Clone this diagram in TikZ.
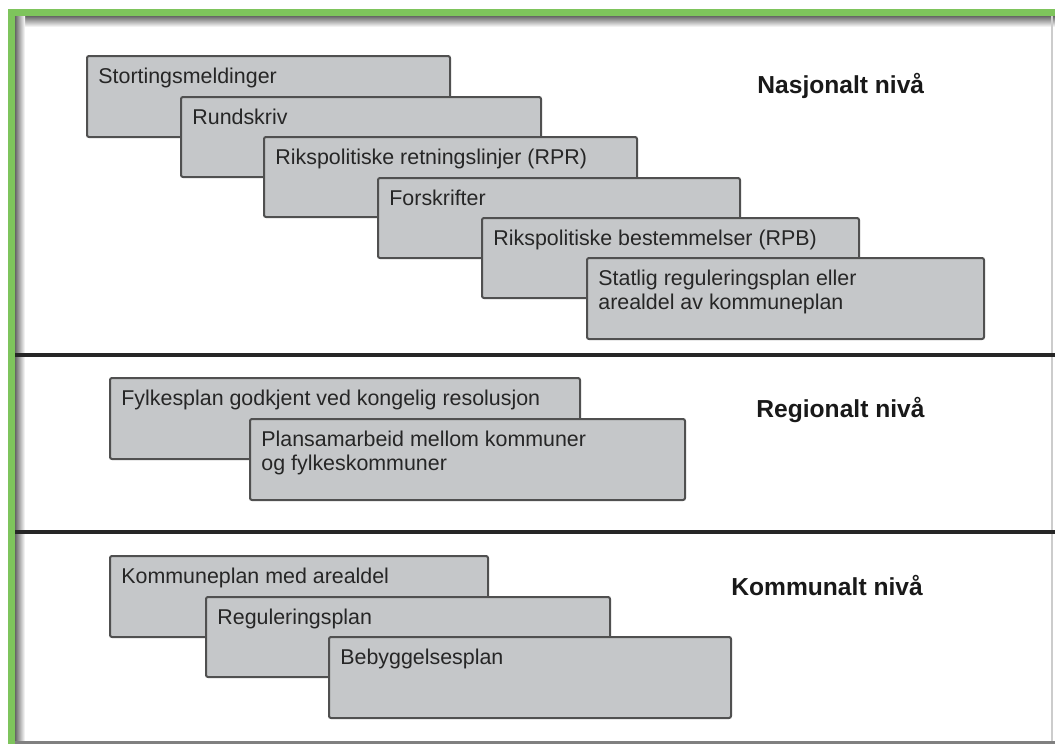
\documentclass[tikz,border=0pt]{standalone}
\usepackage{fontspec}
\setmainfont{Liberation Sans}
\usetikzlibrary{fit}
\definecolor{framegreen}{RGB}{126,196,92}
\definecolor{boxgray}{RGB}{197,199,201}
\definecolor{boxline}{RGB}{80,80,80}
\definecolor{textgray}{RGB}{38,38,38}
\begin{document}
\begin{tikzpicture}[x=0.5pt,y=-0.5pt,
    planbox/.style={draw=boxline, fill=boxgray, line width=1pt, rounded corners=1pt, inner sep=0pt},
    plantext/.style={anchor=north west, inner sep=0pt, align=left, text=textgray,
      font=\fontsize{10.7}{11.6}\selectfont, xshift=6pt, yshift=-6.5pt},
    levellabel/.style={anchor=base west, inner sep=0pt, text=black!90,
      font=\fontsize{12.3}{14}\selectfont\bfseries},
    levelline/.style={line width=1.6pt, black!85}]
  \useasboundingbox[fill=white] (0,0) rectangle (1055,744);
  \shade[top color=black!60, bottom color=white] (15,16) rectangle (1055,27);
  \shade[left color=black!60, right color=white] (15,16) rectangle (25,744);
  \fill[framegreen] (8,9) rectangle (1055,16);
  \fill[framegreen] (8,9) rectangle (15,744);
  \draw[gray!40, line width=0.6pt] (1052,16) -- (1052,744);

  \node[planbox, fit={(87,56) (450,137)}] (stort) {};
  \node[plantext] (stort-t) at (stort.north west) {Stortingsmeldinger};
  \node[planbox, fit={(181,97) (541,177)}] (rund) {};
  \node[plantext] (rund-t) at (rund.north west) {Rundskriv};
  \node[planbox, fit={(264,137) (637,217)}] (rpr) {};
  \node[plantext] (rpr-t) at (rpr.north west) {Rikspolitiske retningslinjer (RPR)};
  \node[planbox, fit={(378,178) (740,258)}] (forsk) {};
  \node[plantext] (forsk-t) at (forsk.north west) {Forskrifter};
  \node[planbox, fit={(482,218) (859,298)}] (rpb) {};
  \node[plantext] (rpb-t) at (rpb.north west) {Rikspolitiske bestemmelser (RPB)};
  \node[planbox, fit={(587,258) (984,339)}] (statlig) {};
  \node[plantext] (statlig-t) at (statlig.north west) {Statlig reguleringsplan eller\\arealdel av kommuneplan};
  \node[levellabel] (nasj) at (757,93) {Nasjonalt nivå};

  \coordinate (sep1w) at (15,355);
  \coordinate (sep1e) at (1055,355);
  \draw[levelline] (sep1w) -- (sep1e);

  \node[planbox, fit={(110,378) (580,459)}] (fylke) {};
  \node[plantext] (fylke-t) at (fylke.north west) {Fylkesplan godkjent ved kongelig resolusjon};
  \node[planbox, fit={(250,419) (685,500)}] (plansam) {};
  \node[plantext] (plansam-t) at (plansam.north west) {Plansamarbeid mellom kommuner\\og fylkeskommuner};
  \node[levellabel] (reg) at (756,417) {Regionalt nivå};

  \coordinate (sep2w) at (15,532);
  \coordinate (sep2e) at (1055,532);
  \draw[levelline] (sep2w) -- (sep2e);

  \node[planbox, fit={(110,556) (488,637)}] (kplan) {};
  \node[plantext] (kplan-t) at (kplan.north west) {Kommuneplan med arealdel};
  \node[planbox, fit={(206,597) (610,677)}] (regplan) {};
  \node[plantext] (regplan-t) at (regplan.north west) {Reguleringsplan};
  \node[planbox, fit={(329,637) (731,718)}] (bebygg) {};
  \node[plantext] (bebygg-t) at (bebygg.north west) {Bebyggelsesplan};
  \node[levellabel] (komm) at (731,595) {Kommunalt nivå};

  \coordinate (sep3w) at (15,742.5);
  \coordinate (sep3e) at (1055,742.5);
  \draw[gray, line width=1.3pt] (sep3w) -- (sep3e);
\end{tikzpicture}
\end{document}
